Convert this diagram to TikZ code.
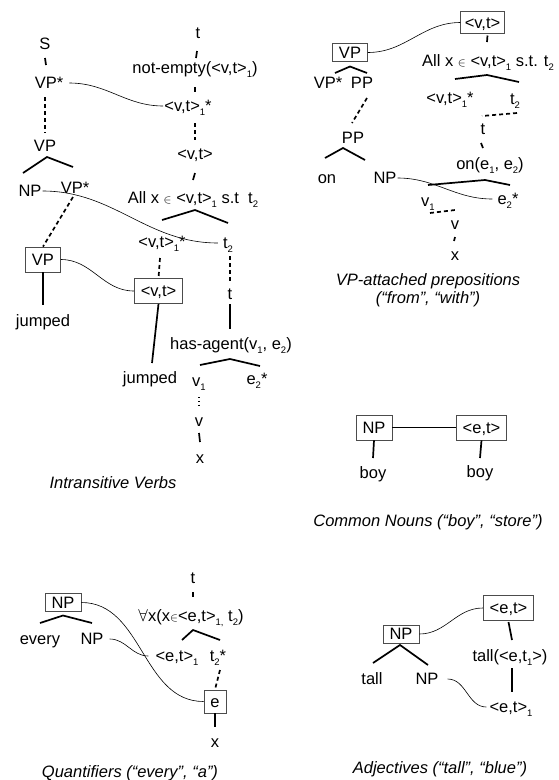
\documentclass[tikz,border=0pt]{standalone}
\usepackage{fontspec}
\setmainfont{Liberation Sans}
\newcommand{\lsub}[1]{\raisebox{-3.5pt}{\fontsize{9.5}{9.5}\selectfont #1}}
\newcommand{\elem}{\ensuremath{\scriptstyle\in}}
\begin{document}
\begin{tikzpicture}[x=1pt,y=-1pt,
	every node/.style={inner sep=1pt,text height=13pt,text depth=2pt,font=\fontsize{16.5}{18}\selectfont},
	tallbox/.style={draw=black!70,line width=0.8pt,inner xsep=6.5pt,inner ysep=6.75pt,text height=11.5pt,text depth=0pt},
	flatbox/.style={tallbox,inner ysep=3.25pt},
	captext/.style={font=\fontsize{16.5}{18}\selectfont\itshape},
	branch/.style={line width=1.7pt},
	dashlink/.style={line width=1.7pt,dash pattern=on 4pt off 3pt},
	dotlink/.style={line width=1.3pt,dash pattern=on 1.3pt off 2.5pt},
	link/.style={line width=0.6pt}]
				\path[use as bounding box,fill=white] (0,0) rectangle (558,780);
				% intransitive verbs
				\node (S) at (45,44) {S};
				\node (VPs) at (49,83) {VP*};
				\node (VPm) at (45,146) {VP};
				\node (NPi) at (30,191) {NP};
				\node (VPst) at (75,188) {VP*};
				\node[tallbox] (VPbox) at (43,259.5) {VP};
				\node (jumpA) at (43,321) {jumped};
				\node (tI) at (198,33) {t};
				\node (nonempty) at (195,68) {not-empty(<v,t>\lsub{1})};
				\node (vtst) at (188,106) {<v,t>\lsub{1}*};
				\node (vt) at (195,154) {<v,t>};
				\node (allx) at (193,198) {All x {\elem} <v,t>\lsub{1} s.t\ \ t\lsub{2}};
				\node (vtone) at (162,242) {<v,t>\lsub{1}*};
				\node (ttwo) at (228,243) {t\lsub{2}};
				\node[tallbox] (vtbox) at (158.5,291) {<v,t>};
				\node (tIb) at (230,294) {t};
				\node (hasag) at (231,344) {has-agent(v\lsub{1}, e\lsub{2})};
				\node (jumpB) at (150,378) {jumped};
				\node (vone) at (199,381) {v\lsub{1}};
				\node (etwo) at (257,379) {e\lsub{2}*};
				\node (vI) at (199,421) {v};
				\node (xI) at (200,458) {x};
				\node[captext] (capA) at (113,483) {Intransitive Verbs};
				\draw[branch] ([shift={(0,14)}]S.center) -- ([shift={(-3,-18)}]VPs.center);
				\draw[dashlink] ([shift={(-4,14)}]VPs.center) -- ([shift={(0,-13)}]VPm.center);
				\draw[branch] ([shift={(-7,-18)}]NPi.center) -- ([shift={(2,11)}]VPm.center) -- ([shift={(-2,-21)}]VPst.center);
				\draw[dashlink] ([shift={(-2,9)}]VPst.center) -- (VPbox.north);
				\draw[branch] (VPbox.south) -- ([shift={(0,-16)}]jumpA.center);
				\draw[branch] ([shift={(-1,18)}]tI.center) -- ([shift={(1,-10)}]nonempty.center);
				\draw[branch] ([shift={(0,19)}]nonempty.center) -- ([shift={(7,-14)}]vtst.center);
				\draw[dashlink] ([shift={(7,17)}]vtst.center) -- ([shift={(0,-14)}]vt.center);
				\draw[branch] ([shift={(0,19)}]vt.center) -- ([shift={(0,-18)}]allx.center);
				\draw[branch] ([shift={(0,-22)}]vtone.center) -- ([shift={(2,12)}]allx.center) -- ([shift={(0,-20)}]ttwo.center);
				\draw[dashlink] ([shift={(-2,16)}]vtone.center) -- (vtbox.north);
				\draw[dashlink] ([shift={(2,13)}]ttwo.center) -- ([shift={(0,-13)}]tIb.center);
				\draw[branch] (vtbox.south) -- ([shift={(2,-15)}]jumpB.center);
				\draw[branch] ([shift={(0,10)}]tIb.center) -- ([shift={(-1,-15)}]hasag.center);
				\draw[branch] ([shift={(1,-16)}]vone.center) -- ([shift={(-1,15)}]hasag.center) -- ([shift={(3,-13)}]etwo.center);
				\draw[dotlink] ([shift={(0,16)}]vone.center) -- ([shift={(0,-14)}]vI.center);
				\draw[branch] ([shift={(0,12)}]vI.center) -- ([shift={(0,-16)}]xI.center);
				\draw[link] ([xshift=5pt]VPs.east) to[out=0,in=180] (vtst.west);
				\draw[link] (NPi.east) to[out=0,in=180] ([xshift=-4pt]ttwo.west);
				\draw[link] (VPbox.east) to[out=0,in=180] (vtbox.west);
				% vp-attached prepositions
				\node[flatbox] (VPboxB) at (350,52.5) {VP};
				\node (VPstB) at (328,83) {VP*};
				\node (PPa) at (362,83) {PP};
				\node (PPb) at (353,138) {PP};
				\node (onw) at (327,178) {on};
				\node (NPb) at (385,178) {NP};
				\node[tallbox,inner xsep=4pt,inner ysep=5.25pt] (vtboxB) at (482.5,22.5) {<v,t>};
				\node (allxB) at (488,61) {All x {\elem} <v,t>\lsub{1} s.t. t\lsub{2}};
				\node (vtstB) at (450,98) {<v,t>\lsub{1}*};
				\node (ttwoB) at (515,99) {t\lsub{2}};
				\node (tP) at (483,129) {t};
				\node (onee) at (490,164) {on(e\lsub{1}, e\lsub{2})};
				\node (voneB) at (428,201) {v\lsub{1}};
				\node (etwoB) at (508,199) {e\lsub{2}*};
				\node (vP) at (455,224) {v};
				\node (xP) at (455,255) {x};
				\node[captext] (capB) at (428,280) {VP-attached prepositions};
				\node[captext] (capBb) at (428,298) {(“from”, “with”)};
				\draw[branch] ([shift={(7,-10)}]VPstB.center) -- ([shift={(0,14)}]VPboxB.center) -- ([shift={(5,-10)}]PPa.center);
				\draw[dashlink] ([shift={(5,15)}]PPa.center) -- ([shift={(-1,-15)}]PPb.center);
				\draw[branch] ([shift={(-2,-20)}]onw.center) -- ([shift={(-10,10)}]PPb.center) -- ([shift={(-20,-18)}]NPb.center);
				\draw[branch] ([shift={(5,13)}]vtboxB.center) -- ([shift={(-1,-19)}]allxB.center);
				\draw[branch] ([shift={(5,-19)}]vtstB.center) -- ([shift={(-1,14)}]allxB.center) -- ([shift={(4,-17)}]ttwoB.center);
				\draw[dashlink] ([shift={(2,14)}]ttwoB.center) -- ([shift={(-1,-13)}]tP.center);
				\draw[branch] ([shift={(-2,14)}]tP.center) -- ([shift={(-7,-16)}]onee.center);
				\draw[branch] ([shift={(0,-16)}]voneB.center) -- ([shift={(-5,16)}]onee.center) -- ([shift={(2,-14)}]etwoB.center);
				\draw[dashlink] ([shift={(2,12)}]voneB.center) -- ([shift={(0,-14)}]vP.center);
				\draw[branch] ([shift={(0,13)}]vP.center) -- ([shift={(-1,-14)}]xP.center);
				\draw[link] (VPboxB.east) to[out=0,in=180] (vtboxB.west);
				\draw[link] (NPb.east) to[out=0,in=180] ([xshift=-4pt]etwoB.west);
				% common nouns
				\node[tallbox] (NPc) at (374,427.5) {NP};
				\node[tallbox] (etc) at (481.5,427.5) {<e,t>};
				\node (boyA) at (373,473) {boy};
				\node (boyB) at (480,472) {boy};
				\node[captext] (capC) at (428,521) {Common Nouns (“boy”, “store”)};
				\draw[link] (NPc.east) -- (etc.west);
				\draw[branch] (NPc.south) -- ([shift={(0,-15)}]boyA.center);
				\draw[branch] (etc.south) -- ([shift={(0,-14)}]boyB.center);
				% quantifiers
				\node[flatbox] (NPq) at (63,602.5) {NP};
				\node (every) at (40,639) {every};
				\node (NPr) at (92,639) {NP};
				\node (tQ) at (193,578) {t};
				\node (forall) at (191,616) {$\forall$x(x{\elem}<e,t>\lsub{1,}~t\lsub{2})};
				\node (etone) at (177,656) {<e,t>\lsub{1}};
				\node (ttq) at (218,656) {t\lsub{2}*};
				\node[tallbox,inner ysep=5.75pt] (ebox) at (215,701.5) {e};
				\node (xQ) at (215,742) {x};
				\node[captext] (capD) at (130,772) {Quantifiers (“every”, “a”)};
				\draw[branch] ([shift={(0,-16)}]every.center) -- ([shift={(0,13)}]NPq.center) -- ([shift={(0,-16)}]NPr.center);
				\draw[branch] ([shift={(0,14)}]tQ.center) -- ([shift={(2,-19)}]forall.center);
				\draw[branch] ([shift={(5,-16)}]etone.center) -- ([shift={(2,14)}]forall.center) -- ([shift={(2,-16)}]ttq.center);
				\draw[dashlink] ([shift={(2,14)}]ttq.center) -- (ebox.north);
				\draw[branch] (ebox.south) -- ([shift={(0,-15)}]xQ.center);
				\draw[link] (NPq.east) to[out=0,in=180] (ebox.west);
				\draw[link] ([xshift=5pt]NPr.east) to[out=0,in=180] ([xshift=-6pt]etone.west);
				% adjectives
				\node[flatbox] (NPa) at (401,634) {NP};
				\node (tallw) at (372,679) {tall};
				\node (NPd) at (427,679) {NP};
				\node[tallbox] (etA) at (508.5,608) {<e,t>};
				\node (tallf) at (510,656) {tall(<e,t\lsub{1}>)};
				\node (etoneA) at (511,707) {<e,t>\lsub{1}};
				\node[captext] (capE) at (440,768) {Adjectives (“tall”, “blue”)};
				\draw[branch] ([shift={(1,-16)}]tallw.center) -- ([shift={(-1,11)}]NPa.center) -- ([shift={(1,-14)}]NPd.center);
				\draw[branch] ([shift={(0,14)}]etA.center) -- ([shift={(2,-16)}]tallf.center);
				\draw[branch] ([shift={(2,12)}]tallf.center) -- ([shift={(1,-15)}]etoneA.center);
				\draw[link] (NPa.east) to[out=0,in=180] (etA.west);
				\draw[link] ([xshift=8pt]NPd.east) to[out=0,in=180] ([xshift=-2pt]etoneA.west);
\end{tikzpicture}
\end{document}
